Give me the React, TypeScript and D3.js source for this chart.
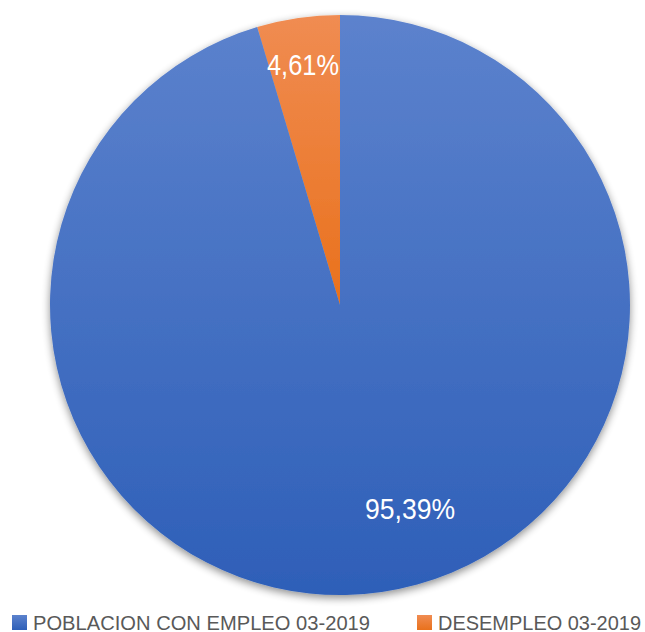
import React from "react";
import * as d3 from "d3";

const categories = ["DESEMPLEO 03-2019", "POBLACION CON EMPLEO 03-2019"];
const values = [4.61, 95.39];
const labels = ["4,61%", "95,39%"];
const legendOrder = ["POBLACION CON EMPLEO 03-2019", "DESEMPLEO 03-2019"];

export default function App() {
  const W = 645, H = 632;
  const cx = 340, cy = 305, r = 290;
  const startA = -(values[0] / 100) * 2 * Math.PI;
  const pie = d3.pie<number>().sort(null).value(d => d).startAngle(startA).endAngle(startA + 2 * Math.PI);
  const arcs = pie(values);
  const arc = d3.arc<d3.PieArcDatum<number>>().innerRadius(0).outerRadius(r);
  const fills = ["url(#gOrange)", "url(#gBlue)"];
  const labelPos = [
    { x: 303, y: 75, len: 72 },
    { x: 410, y: 519, len: 90 },
  ];
  const legend = [
    { x: 12, textX: 33, len: 337 },
    { x: 417, textX: 438, len: 203 },
  ];
  return (
    <svg width={W} height={H} style={{ position: "absolute", left: 0, top: 0 }}>
      <defs>
        <linearGradient id="gBlue" x1="0" y1="0" x2="0" y2="1" gradientUnits="objectBoundingBox">
          <stop offset="0" stopColor="#5c82cd" />
          <stop offset="1" stopColor="#2e5fb8" />
        </linearGradient>
        <linearGradient id="gOrange" x1="0" y1="0" x2="0" y2="1">
          <stop offset="0" stopColor="#f08c52" />
          <stop offset="1" stopColor="#e9711c" />
        </linearGradient>
        <linearGradient id="lgBlue" x1="0" y1="0" x2="0" y2="1">
          <stop offset="0" stopColor="#5c82cd" />
          <stop offset="1" stopColor="#2e5fb8" />
        </linearGradient>
        <linearGradient id="lgOrange" x1="0" y1="0" x2="0" y2="1">
          <stop offset="0" stopColor="#f08c52" />
          <stop offset="1" stopColor="#e9711c" />
        </linearGradient>
        <filter id="shadow" x="-10%" y="-10%" width="120%" height="125%">
          <feGaussianBlur in="SourceAlpha" stdDeviation="4" />
          <feOffset dx="0" dy="3" result="b" />
          <feComponentTransfer>
            <feFuncA type="linear" slope="0.45" />
          </feComponentTransfer>
          <feMerge>
            <feMergeNode />
            <feMergeNode in="SourceGraphic" />
          </feMerge>
        </filter>
      </defs>
      <g transform={`translate(${cx},${cy})`} filter="url(#shadow)">
        {arcs.map((a, i) => (
          <path key={categories[i]} d={arc(a) || ""} fill={fills[i]} />
        ))}
      </g>
      {labels.map((t, i) => (
        <text key={t} x={labelPos[i].x} y={labelPos[i].y} textAnchor="middle" fill="#ffffff"
          fontFamily="Liberation Sans, Arial, sans-serif" fontSize={30}
          textLength={labelPos[i].len} lengthAdjust="spacingAndGlyphs">{t}</text>
      ))}
      {legendOrder.map((name, i) => (
        <g key={name}>
          <rect x={legend[i].x} y={615} width={15} height={15} fill={i === 0 ? "url(#lgBlue)" : "url(#lgOrange)"} />
          <text x={legend[i].textX} y={629.5} fill="#595959" fontFamily="Liberation Sans, Arial, sans-serif"
            fontSize={20} textLength={legend[i].len} lengthAdjust="spacingAndGlyphs">{name}</text>
        </g>
      ))}
    </svg>
  );
}
